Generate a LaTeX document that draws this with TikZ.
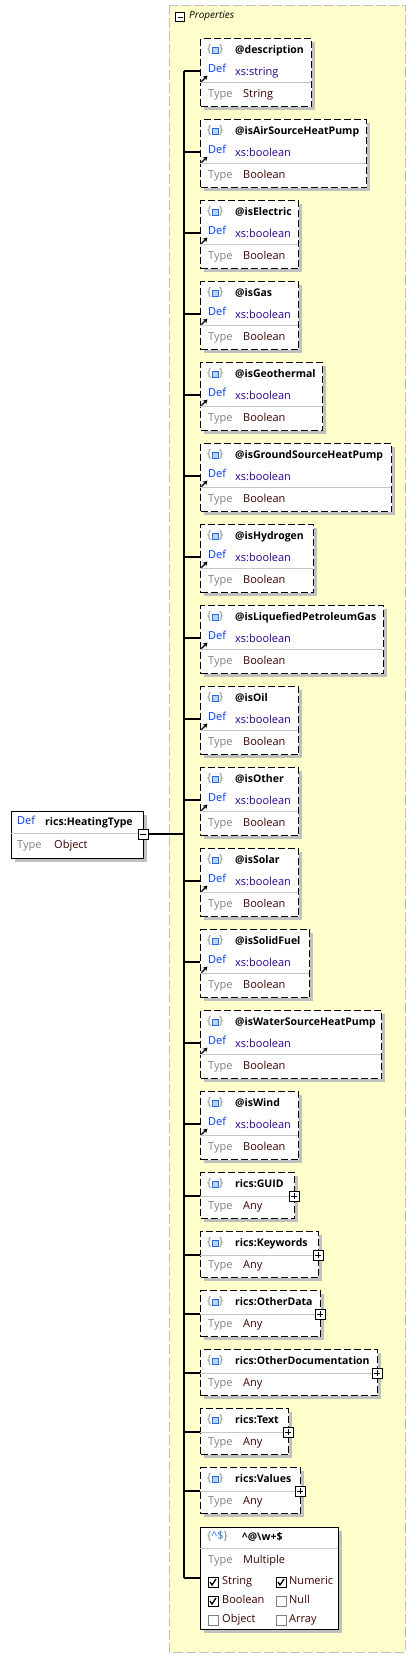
\documentclass[tikz,border=0pt]{standalone}
\usepackage{fontspec}
\setmainfont{Open Sans}
\usetikzlibrary{positioning,calc,arrows.meta}
\definecolor{propyellow}{RGB}{255,255,204}
\definecolor{defblue}{RGB}{0,60,235}
\definecolor{typenavy}{RGB}{40,0,140}
\definecolor{valuered}{RGB}{60,0,0}
\definecolor{shadowgray}{RGB}{192,192,192}
\definecolor{rulegray}{RGB}{200,200,200}
\definecolor{iconblue}{RGB}{30,110,230}

% {o} icon in front of a title
\newcommand{\braceicon}[1]{%
	\node[lbl, gray] at (207,#1) {\{};
	\node[lbl, gray] at (219,#1) {\}};
	\draw[iconblue, fill=iconblue!30, line width=0.8pt] (212,#1-3) rectangle (218,#1+3);
}
% check box: x, y, ticked
\newcommand{\tickbox}[3]{%
	\ifnum#3=1
		\draw[fill=white, line width=0.8pt] (#1,#2-5) rectangle (#1+10,#2+5);
		\draw[line width=1.3pt] (#1+2,#2) -- (#1+4,#2+3) -- (#1+8,#2-3);
	\else
		\draw[gray, fill=white, line width=0.8pt] (#1,#2-5) rectangle (#1+10,#2+5);
	\fi
}
% attribute: name, top, right, title, def, type
\newcommand{\attrbox}[6]{%
	\fill[shadowgray] (204,#2+4) rectangle (#3+4,#2+72);
	\node[frame, dashed box, minimum width={#3-200}, minimum height=68] (#1) at (200,#2) {};
	\draw[rulegray] (200,#2+44) -- (#3,#2+44);
	\braceicon{#2+12}
	\node[lbl, boldlbl] at (235,#2+13) {#4};
	\node[lbl, defblue] at (208,#2+32) {Def};
	\node[lbl, typenavy] at (235,#2+35) {#5};
	\node[lbl, gray] at (208,#2+57) {Type};
	\node[lbl, valuered] at (243,#2+57) {#6};
	\coordinate (#1-in) at (200,#2+33);
	\draw[-{Stealth[length=4.5pt,width=5pt]}, line width=1.3pt] (201.5,#2+43.5) -- (207.5,#2+37.5);
}
% element of any type: name, top, right, title
\newcommand{\anybox}[4]{%
	\fill[shadowgray] (204,#2+4) rectangle (#3+4,#2+50);
	\node[frame, dashed box, minimum width={#3-200}, minimum height=46] (#1) at (200,#2) {};
	\draw[rulegray] (200,#2+24) -- (#3,#2+24);
	\braceicon{#2+12}
	\node[lbl, boldlbl] at (235,#2+13) {#4};
	\node[lbl, gray] at (208,#2+35) {Type};
	\node[lbl, valuered] at (243,#2+35) {Any};
	\coordinate (#1-in) at (200,#2+24);
	\node[plusbox] (#1-plus) at (#3,#2+24) {};
}

\begin{document}
\begin{tikzpicture}[x=1pt, y=-1pt,
		lbl/.style={anchor=mid west, inner sep=0pt, font=\fontsize{11}{13}\selectfont},
		boldlbl/.style={font=\fontsize{10.5}{12}\selectfont\bfseries},
		frame/.style={draw, fill=white, anchor=north west, inner sep=0pt, line width=1.2pt},
		dashed box/.style={dash pattern=on 7pt off 3pt},
		conn/.style={line width=1.2pt},
		plusbox/.style={draw, fill=white, minimum size=10pt, inner sep=0pt, line width=0.8pt,
			path picture={\draw ([xshift=2pt]path picture bounding box.west) -- ([xshift=-2pt]path picture bounding box.east);
				\draw ([yshift=-2pt]path picture bounding box.north) -- ([yshift=2pt]path picture bounding box.south);}},
		minusbox/.style={draw, fill=white, minimum size=10pt, inner sep=0pt, line width=0.8pt,
			path picture={\draw ([xshift=2pt]path picture bounding box.west) -- ([xshift=-2pt]path picture bounding box.east);}}]
	\useasboundingbox (0,0) rectangle (416,1658);
	
	% Properties area
	\fill[propyellow] (169,5) rectangle (405,1652);
	\draw[black!25, dash pattern=on 10pt off 3pt, line width=1pt] (169,5) rectangle (405,1652);
	\node[minusbox, minimum size=9pt] (propminus) at (180,17) {};
	\node[lbl, font=\fontsize{10}{12}\selectfont\itshape] at (189,16) {Properties};
	
	% Root definition
	\fill[shadowgray] (15,815) rectangle (147,862);
	\node[frame, minimum width=132, minimum height=47] (root) at (11,811) {};
	\draw[rulegray] (11,833) -- (143,833);
	\node[lbl, defblue] at (17,822) {Def};
	\node[lbl, boldlbl] at (45,823) {rics:HeatingType};
	\node[lbl, gray] at (17,846) {Type};
	\node[lbl, valuered] at (54,846) {Object};
	\node[minusbox] (rootminus) at (143,834) {};
	
	% Attributes
	\attrbox{desc}{38}{311}{@description}{xs:string}{String}
	\attrbox{airhp}{119}{366}{@isAirSourceHeatPump}{xs:boolean}{Boolean}
	\attrbox{elec}{200}{298}{@isElectric}{xs:boolean}{Boolean}
	\attrbox{gas}{281}{298}{@isGas}{xs:boolean}{Boolean}
	\attrbox{geo}{362}{322}{@isGeothermal}{xs:boolean}{Boolean}
	\attrbox{groundhp}{443}{391}{@isGroundSourceHeatPump}{xs:boolean}{Boolean}
	\attrbox{hydro}{524}{313}{@isHydrogen}{xs:boolean}{Boolean}
	\attrbox{lpg}{605}{383}{@isLiquefiedPetroleumGas}{xs:boolean}{Boolean}
	\attrbox{oil}{686}{298}{@isOil}{xs:boolean}{Boolean}
	\attrbox{other}{767}{298}{@isOther}{xs:boolean}{Boolean}
	\attrbox{solar}{848}{298}{@isSolar}{xs:boolean}{Boolean}
	\attrbox{solid}{929}{309}{@isSolidFuel}{xs:boolean}{Boolean}
	\attrbox{waterhp}{1010}{381}{@isWaterSourceHeatPump}{xs:boolean}{Boolean}
	\attrbox{wind}{1091}{298}{@isWind}{xs:boolean}{Boolean}
	
	% Elements
	\anybox{guid}{1172}{294}{rics:GUID}
	\anybox{keywords}{1231}{318}{rics:Keywords}
	\anybox{otherdata}{1290}{320}{rics:OtherData}
	\anybox{otherdoc}{1349}{377}{rics:OtherDocumentation}
	\anybox{text}{1408}{288}{rics:Text}
	\anybox{values}{1467}{300}{rics:Values}
	
	% Pattern property
	\fill[shadowgray] (204,1531) rectangle (342,1633);
	\node[frame, minimum width=138, minimum height=102] (pat) at (200,1527) {};
	\draw[rulegray] (200,1548) -- (338,1548);
	\node[lbl] at (207,1537) {\textcolor{gray}{\{}\textcolor{iconblue}{\textasciicircum\$}\textcolor{gray}{\}}};
	\node[lbl, boldlbl] at (242,1538) {\textasciicircum@\textbackslash w+\$};
	\node[lbl, gray] at (208,1561) {Type};
	\node[lbl, valuered] at (243,1561) {Multiple};
	\tickbox{208}{1582}{1}
	\node[lbl, valuered] at (222,1582) {String};
	\tickbox{276}{1582}{1}
	\node[lbl, valuered] at (289,1582) {Numeric};
	\tickbox{208}{1601}{1}
	\node[lbl, valuered] at (222,1601) {Boolean};
	\tickbox{276}{1601}{0}
	\node[lbl, valuered] at (289,1601) {Null};
	\tickbox{208}{1620}{0}
	\node[lbl, valuered] at (222,1620) {Object};
	\tickbox{276}{1620}{0}
	\node[lbl, valuered] at (289,1620) {Array};
	\coordinate (pat-in) at (200,1578);
	
	% Connectors
	\coordinate (trunk) at (184,834);
	\draw[conn] (rootminus) -- (trunk);
	\draw[conn] (trunk |- desc-in) -- (trunk |- pat-in);
	\foreach \b in {desc,airhp,elec,gas,geo,groundhp,hydro,lpg,oil,other,solar,solid,waterhp,wind,guid,keywords,otherdata,otherdoc,text,values,pat}
		\draw[conn] (trunk |- \b-in) -- (\b-in);
\end{tikzpicture}
\end{document}
